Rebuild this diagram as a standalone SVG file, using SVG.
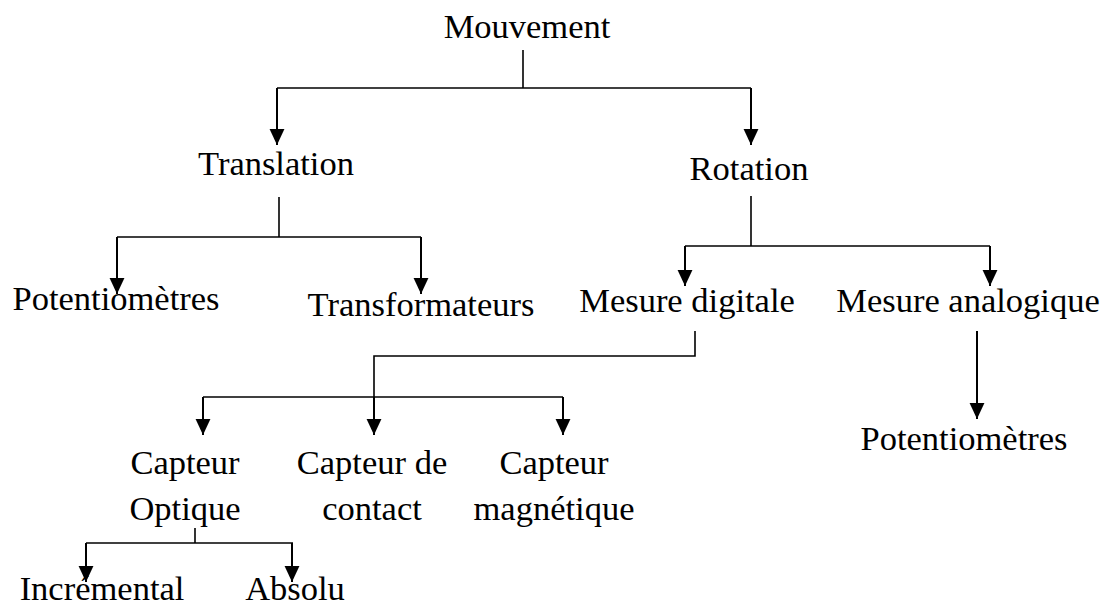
<svg xmlns="http://www.w3.org/2000/svg" width="1105" height="608" viewBox="0 0 1105 608">
  <style>
    text { font-family: "Liberation Serif", "Times New Roman", serif; font-size: 34.5px; fill: #000; text-anchor: middle; }
    .ln { fill: none; stroke: #000; stroke-width: 1.6; }
    .ar { fill: none; stroke: #000; stroke-width: 2; marker-end: url(#head); }
  </style>
  <defs>
    <marker id="head" markerUnits="userSpaceOnUse" markerWidth="16" markerHeight="16" viewBox="0 -7 14 14" refX="14" refY="0" orient="auto">
      <path d="M0,-6.5 L14,0 L0,6.5 z" fill="#000"/>
    </marker>
  </defs>
  <rect width="1105" height="608" fill="#fff"/>

  <g id="connectors">
    <!-- Mouvement -> Translation / Rotation -->
    <polyline class="ln" points="523,50 523,88"/>
    <polyline class="ln" points="277,88 751,88"/>
    <polyline class="ar" points="277,88 277,145"/>
    <polyline class="ar" points="751,88 751,145"/>
    <!-- Translation -> Potentiomètres / Transformateurs -->
    <polyline class="ln" points="279,197 279,237"/>
    <polyline class="ln" points="117,237 421,237"/>
    <polyline class="ar" points="117,237 117,294"/>
    <polyline class="ar" points="421,237 421,294"/>
    <!-- Rotation -> Mesure digitale / Mesure analogique -->
    <polyline class="ln" points="751,196 751,246"/>
    <polyline class="ln" points="685,246 990,246"/>
    <polyline class="ar" points="685,246 685,286"/>
    <polyline class="ar" points="990,246 990,286"/>
    <!-- Mesure digitale -> capteurs -->
    <polyline class="ln" points="695,331 695,356 374,356 374,397"/>
    <polyline class="ln" points="203,397 563,397"/>
    <polyline class="ar" points="203,397 203,435"/>
    <polyline class="ar" points="374,397 374,435"/>
    <polyline class="ar" points="563,397 563,435"/>
    <!-- Mesure analogique -> Potentiomètres -->
    <polyline class="ar" points="977,331 977,419"/>
    <!-- Capteur Optique -> Incrémental / Absolu -->
    <polyline class="ln" points="195,528 195,543"/>
    <polyline class="ln" points="86,543 293,543"/>
    <polyline class="ar" points="86,543 86,582"/>
    <polyline class="ar" points="292,543 292,582"/>
  </g>

  <g id="n-mouvement"><text x="527" y="38">Mouvement</text></g>
  <g id="n-translation"><text x="276" y="175">Translation</text></g>
  <g id="n-rotation"><text x="749" y="180">Rotation</text></g>
  <g id="n-potentiometres-t"><text x="116" y="310">Potentiomètres</text></g>
  <g id="n-transformateurs"><text x="421" y="316">Transformateurs</text></g>
  <g id="n-mesure-digitale"><text x="687" y="312">Mesure digitale</text></g>
  <g id="n-mesure-analogique"><text x="968" y="312">Mesure analogique</text></g>
  <g id="n-capteur-optique"><text x="185" y="474">Capteur</text><text x="185" y="520">Optique</text></g>
  <g id="n-capteur-contact"><text x="372" y="474">Capteur de</text><text x="372" y="520">contact</text></g>
  <g id="n-capteur-magnetique"><text x="554" y="474">Capteur</text><text x="554" y="520">magnétique</text></g>
  <g id="n-potentiometres-r"><text x="964" y="450">Potentiomètres</text></g>
  <g id="n-incremental"><text x="102" y="600">Incrémental</text></g>
  <g id="n-absolu"><text x="295" y="600">Absolu</text></g>
</svg>
